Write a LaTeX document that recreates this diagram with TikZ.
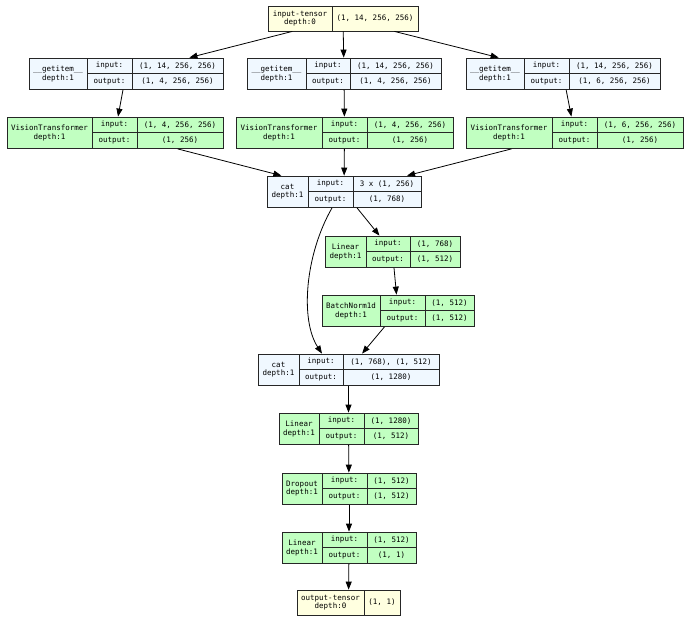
\documentclass[tikz,border=0pt]{standalone}
\usepackage{fontspec}
\setmonofont{DejaVu Sans Mono}
\usetikzlibrary{arrows.meta}

\definecolor{tensorfill}{HTML}{FFFFE0}
\definecolor{funcfill}{HTML}{F0F8FF}
\definecolor{modfill}{HTML}{C1FFC1}

\tikzset{
  txt/.style={font=\ttfamily\fontsize{7.5}{8.5}\selectfont, inner sep=0pt, align=center},
  cellline/.style={black!85, line width=0.8pt},
  box/.style={draw=black!85, line width=0.8pt, inner sep=0pt},
  tensor/.style={box, fill=tensorfill},
  func/.style={box, fill=funcfill},
  module/.style={box, fill=modfill},
  flow/.style={black, line width=0.8pt, -{Triangle[length=8pt,width=6pt]}}
}

\newcommand{\tensorbox}[7]{%
  \node[tensor, minimum width={(#5-#2)*1pt}, minimum height=25pt] (#1) at ({(#2+#5)/2},#3+12.5) {};
  \draw[cellline] (#4,#3) -- (#4,#3+25);
  \node[txt] at ({(#2+#4)/2},#3+12.5) {#6};
  \node[txt] at ({(#4+#5)/2},#3+12.5) {#7};
}

\newcommand{\layerbox}[8]{%
  \node[#2, minimum width={(#7-#3)*1pt}, minimum height=31.5pt] (#1) at ({(#3+#7)/2},#4+15.75) {};
  \draw[cellline] (#5,#4) -- (#5,#4+31.5) (#6,#4) -- (#6,#4+31.5) (#5,#4+15.75) -- (#7,#4+15.75);
  \node[txt] at ({(#3+#5)/2},#4+15.75) {#8\\depth:1};
  \node[txt] at ({(#5+#6)/2},#4+7.9) {input:};
  \node[txt] at ({(#5+#6)/2},#4+23.6) {output:};
  \coordinate (#1-in) at ({(#6+#7)/2},#4+7.9);
  \coordinate (#1-out) at ({(#6+#7)/2},#4+23.6);
}

\begin{document}
\begin{tikzpicture}[x=1pt, y=-1pt]
  \useasboundingbox (0,0) rectangle (690,622);

  \tensorbox{input}{268}{6}{332}{418}{input-tensor\\depth:0}{(1, 14, 256, 256)}

  \layerbox{get1}{func}{29}{58}{87}{132}{223}{\_\_getitem\_\_}
  \node[txt] at (get1-in) {(1, 14, 256, 256)};
  \node[txt] at (get1-out) {(1, 4, 256, 256)};
  \layerbox{get2}{func}{247}{58}{306}{350}{441}{\_\_getitem\_\_}
  \node[txt] at (get2-in) {(1, 14, 256, 256)};
  \node[txt] at (get2-out) {(1, 4, 256, 256)};
  \layerbox{get3}{func}{466}{58}{524}{569}{660}{\_\_getitem\_\_}
  \node[txt] at (get3-in) {(1, 14, 256, 256)};
  \node[txt] at (get3-out) {(1, 6, 256, 256)};

  \layerbox{vit1}{module}{7}{117}{92}{137}{223}{VisionTransformer}
  \node[txt] at (vit1-in) {(1, 4, 256, 256)};
  \node[txt] at (vit1-out) {(1, 256)};
  \layerbox{vit2}{module}{236}{117}{322}{367}{453}{VisionTransformer}
  \node[txt] at (vit2-in) {(1, 4, 256, 256)};
  \node[txt] at (vit2-out) {(1, 256)};
  \layerbox{vit3}{module}{466}{117}{552}{597}{683}{VisionTransformer}
  \node[txt] at (vit3-in) {(1, 6, 256, 256)};
  \node[txt] at (vit3-out) {(1, 256)};

  \layerbox{cat1}{func}{267}{176}{308}{353}{421}{cat}
  \node[txt] at (cat1-in) {3 x (1, 256)};
  \node[txt] at (cat1-out) {(1, 768)};

  \layerbox{lin1}{module}{325}{236}{366}{410}{460}{Linear}
  \node[txt] at (lin1-in) {(1, 768)};
  \node[txt] at (lin1-out) {(1, 512)};

  \layerbox{norm}{module}{322}{295}{380}{425}{474}{BatchNorm1d}
  \node[txt] at (norm-in) {(1, 512)};
  \node[txt] at (norm-out) {(1, 512)};

  \layerbox{cat2}{func}{258}{354}{299}{343}{439}{cat}
  \node[txt] at (cat2-in) {(1, 768), (1, 512)};
  \node[txt] at (cat2-out) {(1, 1280)};

  \layerbox{lin2}{module}{279}{413}{319}{364}{418}{Linear}
  \node[txt] at (lin2-in) {(1, 1280)};
  \node[txt] at (lin2-out) {(1, 512)};

  \layerbox{drop}{module}{282}{473}{322}{367}{416}{Dropout}
  \node[txt] at (drop-in) {(1, 512)};
  \node[txt] at (drop-out) {(1, 512)};

  \layerbox{lin3}{module}{282}{532}{322}{367}{416}{Linear}
  \node[txt] at (lin3-in) {(1, 512)};
  \node[txt] at (lin3-out) {(1, 1)};

  \tensorbox{output}{297}{590}{364}{400}{output-tensor\\depth:0}{(1, 1)}

  \draw[flow] (input) -- (get1);
  \draw[flow] (input) -- (get2);
  \draw[flow] (input) -- (get3);
  \draw[flow] (get1) -- (vit1);
  \draw[flow] (get2) -- (vit2);
  \draw[flow] (get3) -- (vit3);
  \draw[flow] (vit1) -- (cat1);
  \draw[flow] (vit2) -- (cat1);
  \draw[flow] (vit3) -- (cat1);
  \draw[flow] (cat1) -- (lin1);
  \draw[flow] ([xshift=-12pt]cat1.south) .. controls (305,255) and (300,320) .. ([xshift=-26.5pt]cat2.north);
  \draw[flow] (lin1) -- (norm);
  \draw[flow] (norm) -- (cat2);
  \draw[flow] (cat2) -- (lin2);
  \draw[flow] (lin2) -- (drop);
  \draw[flow] (drop) -- (lin3);
  \draw[flow] (lin3) -- (output);
\end{tikzpicture}
\end{document}
